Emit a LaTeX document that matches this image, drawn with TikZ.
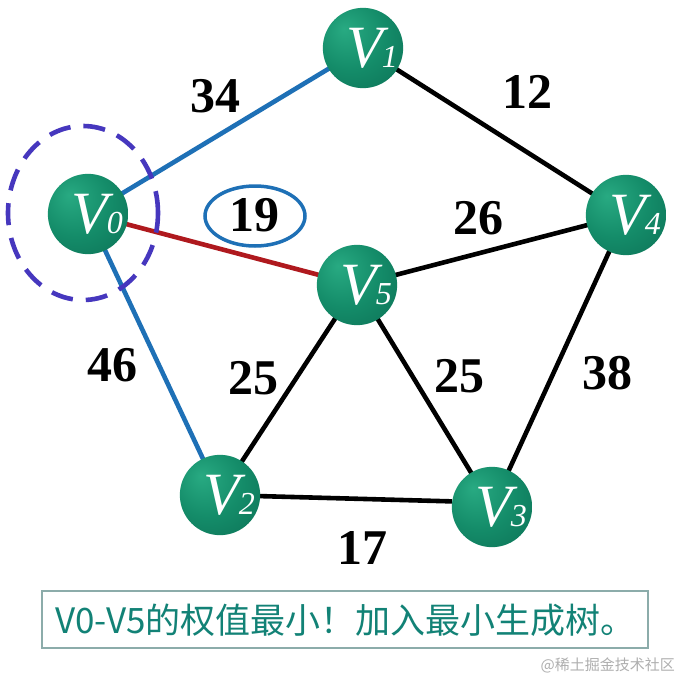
\documentclass[tikz,border=0pt]{standalone}
\usepackage{fontspec}
\setmainfont{Liberation Serif}
\newfontfamily\cjk{Noto Sans CJK SC}
\usetikzlibrary{backgrounds,shapes.geometric}
\definecolor{nodeA}{RGB}{40,170,130}
\definecolor{nodeB}{RGB}{20,140,105}
\definecolor{nodeC}{RGB}{10,105,80}
\definecolor{edgeblue}{RGB}{30,112,182}
\definecolor{edgered}{RGB}{175,25,30}
\definecolor{dashpurple}{RGB}{70,55,190}
\definecolor{boxline}{RGB}{140,172,170}
\definecolor{boxtext}{RGB}{18,130,118}
\definecolor{wm}{RGB}{175,175,175}
\pgfdeclareradialshading{vball}{\pgfpoint{-12bp}{12bp}}{color(0bp)=(nodeA); color(22bp)=(nodeB); color(50bp)=(nodeC); color(70bp)=(nodeC)}
\tikzset{
  vnode/.style={circle, minimum size=79pt, inner sep=0pt, shading=vball, text=white},
  wlabel/.style={font=\fontsize{50}{50}\selectfont\bfseries, text=black, inner sep=0pt},
  edgeline/.style={line width=4.6pt},
}
\newcommand{\vlab}[1]{\hspace*{18pt}{\fontsize{60}{60}\selectfont\itshape V}\kern-1pt{\fontsize{32}{32}\selectfont\itshape #1}}
\begin{document}
\begin{tikzpicture}[x=1pt,y=-1pt]
\useasboundingbox (0,0) rectangle (679,680);
% nodes
\node[vnode] (v1) at (363,48) {\vlab{1}};
\node[vnode] (v0) at (88,214) {\vlab{0}};
\node[vnode] (v4) at (626,215) {\vlab{4}};
\node[vnode] (v5) at (357,285) {\vlab{5}};
\node[vnode] (v2) at (220,495) {\vlab{2}};
\node[vnode] (v3) at (492,507) {\vlab{3}};
% edges
\begin{scope}[on background layer]
\fill[white] (0,0) rectangle (679,680);
\draw[edgeline, edgeblue] (v0.center) -- (v1.center);
\draw[edgeline, edgeblue] (v0.center) -- (v2.center);
\draw[edgeline, edgered] (v0.center) -- (v5.center);
\draw[edgeline] (v1.center) -- (v4.center);
\draw[edgeline] (v5.center) -- (v4.center);
\draw[edgeline] (v5.center) -- (v2.center);
\draw[edgeline] (v5.center) -- (v3.center);
\draw[edgeline] (v4.center) -- (v3.center);
\draw[edgeline] (v2.center) -- (v3.172);
\end{scope}
% dashed highlight circle
\node[draw=dashpurple, line width=4.6pt, dash pattern=on 22pt off 13pt, ellipse, minimum width=150pt, minimum height=174pt, inner sep=0pt] (hl) at (83,213) {};
% weight labels
\node[wlabel] (w34) at (215,96) {34};
\node[wlabel] (w12) at (527,92) {12};
\node[wlabel] (w19) at (254,215) {19};
\node[draw=edgeblue, line width=3.5pt, ellipse, minimum width=100pt, minimum height=60pt, inner sep=0pt] (e19) at (255,216) {};
\node[wlabel] (w26) at (478,218) {26};
\node[wlabel] (w46) at (112,365) {46};
\node[wlabel] (w25a) at (253,378) {25};
\node[wlabel] (w25b) at (459,376) {25};
\node[wlabel] (w38) at (607,373) {38};
\node[wlabel] (w17) at (362,548) {17};
% caption box
\node[draw=boxline, line width=2.5pt, minimum width=606pt, minimum height=57pt, inner sep=0pt] (box) at (345,619.5) {};
\node[anchor=west, text=boxtext, font=\cjk\fontsize{35}{35}\selectfont, inner sep=0pt] (cap) at (55,620) {V0-V5的权值最小！加入最小生成树。};
\node[anchor=east, text=wm, font=\cjk\fontsize{15}{15}\selectfont, inner sep=0pt] (wmark) at (675,665) {@稀土掘金技术社区};
\end{tikzpicture}
\end{document}
